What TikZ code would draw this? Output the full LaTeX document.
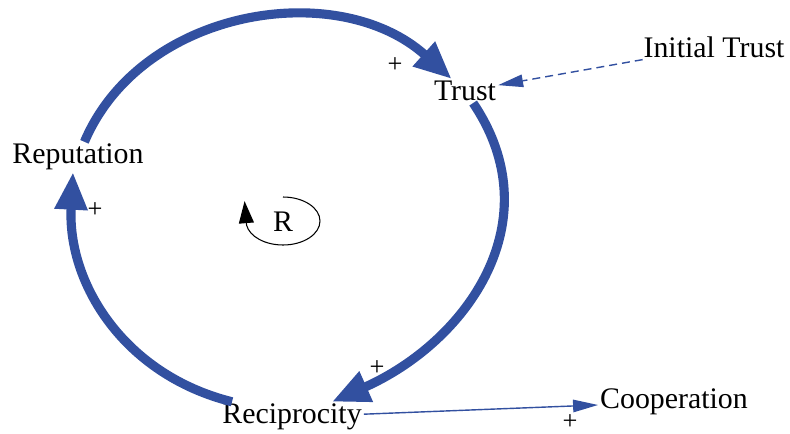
\documentclass[tikz,border=0pt]{standalone}
\usepackage{fontspec}
\setmainfont{Liberation Serif}
\usetikzlibrary{arrows.meta}
\definecolor{loopblue}{RGB}{50,80,160}
\tikzset{
  var/.style={font=\fontsize{17}{20}\selectfont, inner sep=1pt},
  sign/.style={font=\fontsize{15}{18}\selectfont, inner sep=0pt},
  bigarrow/.style={draw=loopblue, line width=5.2pt,
    -{Triangle[length=0.75cm,width=0.62cm]}},
  thinarrow/.style={draw=loopblue, line width=0.8pt,
    -{Triangle[length=0.5cm,width=0.25cm]}},
  loopmark/.style={draw=black, line width=0.6pt,
    -{Triangle[length=0.44cm,width=0.3cm]}}
}
\begin{document}
\begin{tikzpicture}[x=0.02cm,y=0.02cm]
  \useasboundingbox (0,0) rectangle (790,-433);
  \draw
    (465,-91) node[var] (trust){Trust}
    (714,-47) node[var] (init){Initial Trust}
    (78,-157) node[var] (rep){Reputation}
    (292,-417) node[var] (rec){Reciprocity}
    (674,-402) node[var] (coop){Cooperation}
    (283,-222) node[var] (loopR){R}
    (395,-65) node[sign] (p1){+}
    (95,-210) node[sign] (p2){+}
    (377,-368) node[sign] (p3){+}
    (570,-422) node[sign] (p4){+};
  \begin{scope}[bigarrow]
    \draw (rep) to[out=67,in=138,out looseness=1,in looseness=1.05] (trust);
    \draw (trust) to[out=-56,in=24,out looseness=1.1,in looseness=1.15] ([xshift=0.8cm]rec.north);
    \draw ([xshift=-1.2cm]rec.north) to[out=166,in=-93,looseness=1.02] ([xshift=-0.1cm]rep.south);
  \end{scope}
  \draw[thinarrow] (rec) -- (coop);
  \draw[thinarrow, dash pattern=on 0.16cm off 0.1cm] (init) -- (trust);
  \draw[loopmark] ([yshift=0.5cm]loopR.center)
    arc[start angle=90, end angle=-170, x radius=0.74cm, y radius=0.48cm]
    -- ++(-2,24);
\end{tikzpicture}
\end{document}
